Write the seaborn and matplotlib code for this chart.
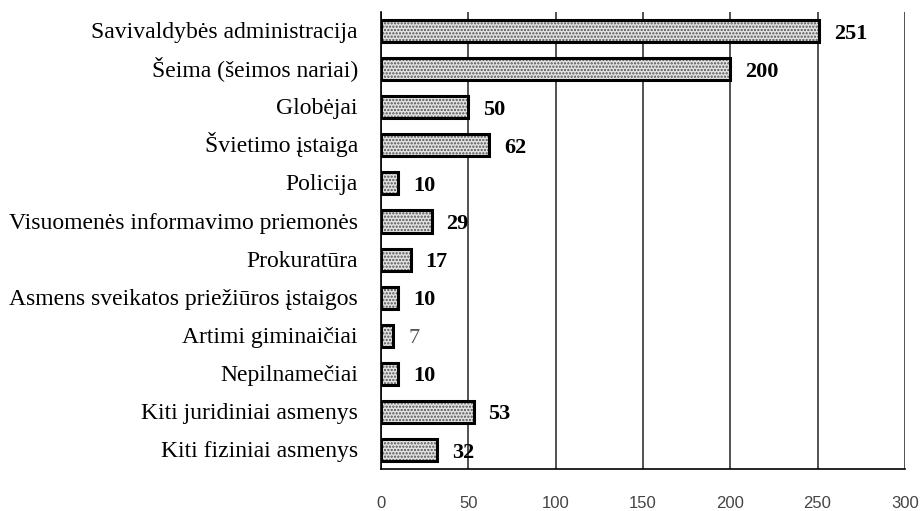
import matplotlib

matplotlib.use("Agg")
import matplotlib.pyplot as plt
import matplotlib.transforms as mtransforms
import pandas as pd
import seaborn as sns

categories = [
    "Savivaldybės administracija",
    "Šeima (šeimos nariai)",
    "Globėjai",
    "Švietimo įstaiga",
    "Policija",
    "Visuomenės informavimo priemonės",
    "Prokuratūra",
    "Asmens sveikatos priežiūros įstaigos",
    "Artimi giminaičiai",
    "Nepilnamečiai",
    "Kiti juridiniai asmenys",
    "Kiti fiziniai asmenys",
]
counts = [251, 200, 50, 62, 10, 29, 17, 10, 7, 10, 53, 32]
x_ticks = [0, 50, 100, 150, 200, 250, 300]
# the "7" label is printed in plain grey type in the original
plain_labels = ["Artimi giminaičiai"]

frame = pd.DataFrame({"category": categories, "count": counts})

sns.set_style("white")
plt.rcParams["hatch.linewidth"] = 1.1

fig = plt.figure(figsize=(9.24, 5.11), dpi=100)
ax = fig.add_axes([0.4123, 0.082, 0.567, 0.8945])

sns.barplot(data=frame, x="count", y="category", orient="h", color="#e4e4e4",
            width=0.58, ax=ax, zorder=3)
for patch in ax.patches:
    patch.set_hatch(".....")
    patch.set_edgecolor("#505050")
    patch.set_linewidth(0)
sns.barplot(data=frame, x="count", y="category", orient="h", fill=False,
            color="black", linewidth=2.2, width=0.58, ax=ax, zorder=4)

# baseline-anchored text so accents and descenders don't shift rows
value_tf = ax.transData + mtransforms.ScaledTranslation(0, -7.5 / 100, fig.dpi_scale_trans)
label_tf = mtransforms.blended_transform_factory(ax.transAxes, ax.transData) + \
    mtransforms.ScaledTranslation(-23 / 100, -7 / 100, fig.dpi_scale_trans)

for idx, (cat, val) in enumerate(zip(categories, counts)):
    ax.text(0, idx, cat, transform=label_tf, ha="right", va="baseline",
            fontsize=17, family="Liberation Serif", color="black")
    if cat in plain_labels:
        ax.text(val + 8.5, idx, str(val), transform=value_tf,
                va="baseline", ha="left", fontsize=16, family="Liberation Serif",
                color="#555555", zorder=5)
    else:
        ax.text(val + 8.5, idx, str(val), transform=value_tf,
                va="baseline", ha="left", fontsize=16, fontweight="bold",
                family="Liberation Serif", color="black", zorder=5)

ax.set_xlim(0, 300)
ax.set_ylim(11.5, -0.5)
ax.set_xticks(x_ticks)
ax.set_xticklabels([str(t) for t in x_ticks], family="Liberation Sans",
                   fontsize=12, color="#444444")
ax.set_yticklabels([])
ax.set_xlabel("")
ax.set_ylabel("")
ax.tick_params(axis="x", direction="inout", length=7, width=1, color="black", pad=16)
ax.tick_params(axis="y", length=0)
ax.xaxis.grid(True, color="#222222", linewidth=1.1, zorder=0)
ax.set_axisbelow(True)
for side in ["top", "right"]:
    ax.spines[side].set_visible(False)
ax.spines["left"].set_color("black")
ax.spines["left"].set_linewidth(1.2)
ax.spines["bottom"].set_color("black")
ax.spines["bottom"].set_linewidth(1.2)

fig.savefig("out.png", dpi=100)
plt.close(fig)
